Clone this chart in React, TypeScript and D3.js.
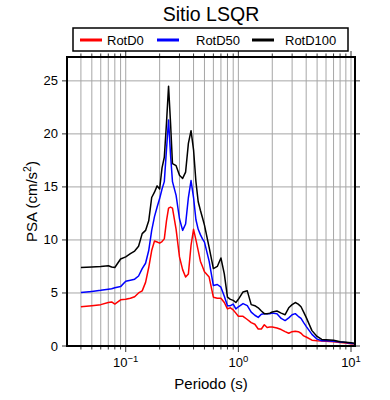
import React from 'react';
import * as d3 from 'd3';

// periods (s) shared by the three spectra
const periods = [
  0.04, 0.05, 0.06, 0.07, 0.075, 0.08, 0.09, 0.1, 0.11, 0.12, 0.13, 0.14, 0.15, 0.16, 0.17, 0.18, 0.19,
  0.2, 0.21, 0.22, 0.23, 0.24, 0.25, 0.26, 0.28, 0.3, 0.32, 0.34, 0.36, 0.38, 0.4, 0.42, 0.44, 0.46, 0.48,
  0.5, 0.55, 0.6, 0.65, 0.7, 0.75, 0.8, 0.85, 0.9, 0.95, 1.0, 1.1, 1.2, 1.3, 1.4, 1.5, 1.6, 1.7, 1.8, 1.9,
  2.0, 2.2, 2.4, 2.6, 2.8, 3.0, 3.2, 3.4, 3.6, 3.8, 4.0, 4.5, 5.0, 5.5, 6.0, 7.0, 8.0, 9.0, 10.0, 10.8,
];

const rotD0 = [
  3.7, 3.8, 3.9, 4.1, 4.15, 3.95, 4.35, 4.4, 4.5, 4.65, 5.0, 5.2, 6.0, 7.4, 9.0, 9.9, 9.8,
  9.7, 9.85, 10.1, 11.8, 13.0, 13.1, 13.0, 11.0, 8.4, 7.2, 6.5, 6.8, 9.5, 11.0, 10.0, 9.0, 8.0, 7.5,
  7.0, 6.5, 4.6, 4.5, 4.5, 4.1, 3.5, 3.6, 3.4, 3.1, 2.8, 2.8, 2.5, 2.2, 2.05, 1.6, 1.6, 2.0, 1.75, 1.8,
  1.8, 1.7, 1.55, 1.35, 1.2, 1.35, 1.4, 1.35, 1.2, 0.95, 0.85, 0.55, 0.5, 0.48, 0.45, 0.4, 0.33, 0.28, 0.22, 0.18,
];

const rotD50 = [
  5.05, 5.15, 5.25, 5.36, 5.4, 5.5, 5.6, 6.1, 6.2, 6.3, 6.6, 7.3, 7.8, 9.0, 10.9, 12.2, 13.1,
  13.9, 14.8, 15.5, 18.5, 21.3, 18.0, 15.5, 14.2, 12.0, 10.9, 11.5, 14.0, 15.6, 14.0, 11.9, 11.0, 10.5, 10.1,
  9.8, 8.0, 5.7, 5.8, 5.55, 4.7, 3.8, 3.8, 3.95, 3.5, 3.7, 4.0, 3.8, 3.2, 2.9, 2.7, 3.0, 3.05, 3.05, 3.05,
  3.1, 3.05, 2.6, 2.4, 2.65, 2.95, 3.05, 2.8, 2.6, 2.2, 1.85, 1.1, 0.65, 0.5, 0.5, 0.45, 0.38, 0.33, 0.25, 0.2,
];

const rotD100 = [
  7.4, 7.45, 7.5, 7.57, 7.45, 7.4, 8.2, 8.4, 8.7, 8.95, 9.4, 10.6, 10.9, 11.8, 14.0, 14.5, 15.1,
  14.8, 16.8, 17.8, 21.0, 24.5, 21.0, 17.2, 17.0, 16.1, 15.8, 16.4, 19.1, 20.3, 18.5, 15.5, 13.6, 12.8, 12.1,
  11.4, 9.3, 7.3, 7.5, 8.3, 6.8, 4.6, 4.4, 4.3, 4.1, 4.4, 5.1, 5.2, 3.9, 3.8, 3.6, 3.3, 3.05, 3.05, 3.1,
  3.2, 3.3, 3.1, 2.95, 3.6, 3.9, 4.1, 3.95, 3.7, 3.2, 2.7, 1.45, 0.9, 0.62, 0.6, 0.55, 0.4, 0.35, 0.3, 0.25,
];

const seriesNames = ['RotD0', 'RotD50', 'RotD100'];
const seriesColors = ['#ff0000', '#0000ff', '#000000'];
const yTicks = [0, 5, 10, 15, 20, 25];
const xMajors = [0.1, 1, 10];
const xMajorExponents = ['\u22121', '0', '1'];

const font = '"Liberation Sans", Arial, Helvetica, sans-serif';

export default function App() {
  const width = 390, height = 400;
  const margin = { top: 57, right: 35, bottom: 54, left: 67 };

  const x = d3.scaleLog()
    .domain([0.0301, 10.85])
    .range([margin.left, width - margin.right]);
  const y = d3.scaleLinear()
    .domain([0, 27.25])
    .range([height - margin.bottom, margin.top]);

  const x0 = margin.left, x1 = width - margin.right;
  const y0 = height - margin.bottom, y1 = margin.top;

  // every log tick inside the frame (1..9 x decade)
  const logTicks = x.ticks().filter(t => t >= x.domain()[0] && t <= x.domain()[1]);
  const isMajor = (t: number) => Math.abs(Math.log10(t) - Math.round(Math.log10(t))) < 1e-6;

  const line = d3.line<number>()
    .x((_, i) => x(periods[i]))
    .y(d => y(d));

  const allSeries = [rotD0, rotD50, rotD100];

  // legend placement
  const legendItems = [
    { lx: 80, tx: 107 },
    { lx: 157, tx: 196 },
    { lx: 252, tx: 285 },
  ];

  return (
    <svg width={width} height={height} style={{ position: 'absolute', left: 0, top: 0, fontFamily: font }}>
      <rect width={width} height={height} fill="#fff" />
      {/* title */}
      <text x={211} y={21} textAnchor="middle" fontSize={19.5}>Sitio LSQR</text>

      {/* legend */}
      <rect x={73} y={28} width={275} height={23} fill="#fff" stroke="#000" strokeWidth={1.5} />
      {seriesNames.map((name, i) => (
        <g key={name}>
          <line x1={legendItems[i].lx} x2={legendItems[i].lx + 22} y1={40} y2={40} stroke={seriesColors[i]} strokeWidth={3} />
          <text x={legendItems[i].tx} y={44.5} fontSize={13}>{name}</text>
        </g>
      ))}

      {/* grid */}
      {logTicks.map(t => (
        <line key={`gx${t}`} x1={x(t)} x2={x(t)} y1={y1} y2={y0} stroke="#a6a6a6" strokeWidth={1} />
      ))}
      {yTicks.filter(v => v > 0).map(v => (
        <line key={`gy${v}`} x1={x0} x2={x1} y1={y(v)} y2={y(v)} stroke="#a6a6a6" strokeWidth={1} />
      ))}

      {/* outside ticks, top and bottom */}
      {logTicks.map(t => (
        <g key={`tk${t}`}>
          <line x1={x(t)} x2={x(t)} y1={y1} y2={y1 - (isMajor(t) ? 6 : 3.5)} stroke="#000" strokeWidth={0.8} />
          <line x1={x(t)} x2={x(t)} y1={y0} y2={y0 + (isMajor(t) ? 6 : 3.5)} stroke="#000" strokeWidth={0.8} />
        </g>
      ))}
      {/* outside ticks, left and right */}
      {yTicks.map(v => (
        <g key={`ty${v}`}>
          <line x1={x0} x2={x0 - 5} y1={y(v)} y2={y(v)} stroke="#000" strokeWidth={0.8} />
          <line x1={x1} x2={x1 + 5} y1={y(v)} y2={y(v)} stroke="#000" strokeWidth={0.8} />
          <text x={58} y={y(v) + 4.5} textAnchor="end" fontSize={13}>{v}</text>
        </g>
      ))}

      {/* spectra */}
      {allSeries.map((s, i) => (
        <path key={seriesNames[i]} d={line(s) ?? ''} fill="none" stroke={seriesColors[i]} strokeWidth={1.5} strokeLinejoin="round" />
      ))}

      {/* frame */}
      <rect x={x0} y={y1} width={x1 - x0} height={y0 - y1} fill="none" stroke="#000" strokeWidth={2} />

      {/* x tick labels */}
      {xMajors.map((t, i) => (
        <text key={`xl${t}`} x={x(t)} y={367} textAnchor="middle" fontSize={13}>
          10<tspan dy={-5} fontSize={9.5}>{xMajorExponents[i]}</tspan>
        </text>
      ))}

      {/* axis labels */}
      <text x={211} y={389} textAnchor="middle" fontSize={15}>Periodo (s)</text>
      <text transform={`translate(37, ${(y0 + y1) / 2}) rotate(-90)`} textAnchor="middle" fontSize={15}>
        PSA (cm/s<tspan dy={-6} fontSize={10.5}>2</tspan><tspan dy={6}>)</tspan>
      </text>
    </svg>
  );
}
